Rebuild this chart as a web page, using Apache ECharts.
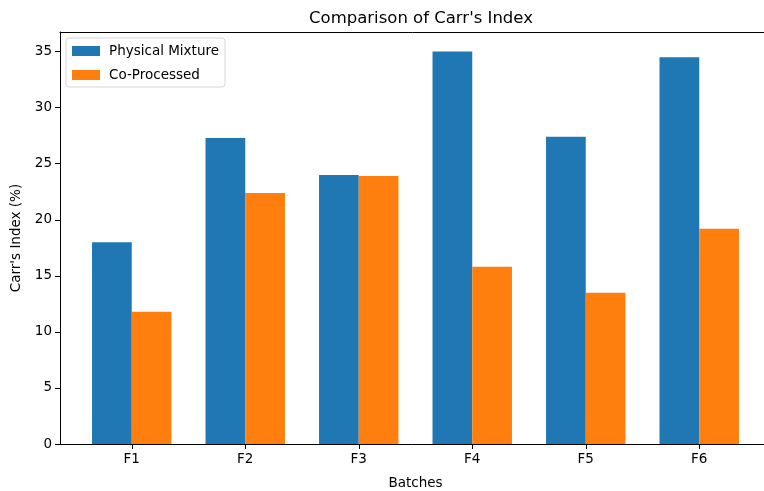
<!DOCTYPE html>
<html>
<head>
<meta charset="utf-8">
<script src="https://cdn.jsdelivr.net/npm/echarts@6/dist/echarts.min.js"></script>
<style>
  html, body { margin: 0; padding: 0; background: #fff; }
  #show_picture { width: 764px; height: 491px; }
</style>
</head>
<body>
<div id="show_picture"></div>
<script>
// data
const batches = ['F1', 'F2', 'F3', 'F4', 'F5', 'F6'];
const physicalMixture = [18.0, 27.3, 24.0, 35.0, 27.4, 34.5];
const coProcessed = [11.8, 22.4, 23.9, 15.8, 13.5, 19.2];
const yTicks = [0, 5, 10, 15, 20, 25, 30, 35];

let myChart = echarts.init(document.getElementById('show_picture'));
const font = 'DejaVu Sans';
const fs = 13.5;

let option = {
    animation: false,
    textStyle: { fontFamily: font },
    title: {
        text: "Comparison of Carr's Index",
        left: 416, top: 5, textAlign: 'center',
        textStyle: { fontFamily: font, fontWeight: 'normal', fontSize: 16.5, color: '#000' }
    },
    legend: {
        orient: 'vertical',
        left: 66, top: 38,
        padding: [6, 6, 5, 6],
        icon: 'rect',
        itemWidth: 28, itemHeight: 10, itemGap: 10,
        borderColor: '#d6d6d6', borderWidth: 1, borderRadius: 3,
        backgroundColor: 'rgba(255,255,255,0.8)',
        textStyle: { fontFamily: font, fontSize: fs, color: '#000', padding: [0, 0, 0, 4] },
        data: ['Physical Mixture', 'Co-Processed']
    },
    grid: [
        // frame (spines), right spine falls outside the picture
        { left: 60, right: -7, top: 32, bottom: 47, outerBoundsMode: 'none', containLabel: false },
        // bars, inset by the matplotlib x-margin
        { left: 75, right: 8, top: 32, bottom: 47, outerBoundsMode: 'none', containLabel: false }
    ],
    xAxis: [
        {
            gridIndex: 0, type: 'value', min: 0, max: 1, position: 'bottom',
            axisLine: { show: true, onZero: false, lineStyle: { color: '#000' } },
            axisTick: { show: false }, axisLabel: { show: false }, splitLine: { show: false }
        },
        {
            gridIndex: 0, type: 'value', min: 0, max: 1, position: 'top',
            axisLine: { show: true, onZero: false, lineStyle: { color: '#000' } },
            axisTick: { show: false }, axisLabel: { show: false }, splitLine: { show: false }
        },
        {
            gridIndex: 1, type: 'category', data: batches,
            name: 'Batches', nameLocation: 'middle', nameGap: 32,
            nameTextStyle: { fontFamily: font, fontSize: fs, color: '#000' },
            axisLine: { show: false },
            axisTick: { show: true, alignWithLabel: true, length: 5, lineStyle: { color: '#000' } },
            axisLabel: { fontFamily: font, fontSize: fs, color: '#000', margin: 8 }
        }
    ],
    yAxis: [
        {
            gridIndex: 0, type: 'value', min: 0, max: 36.75,
            name: "Carr's Index (%)", nameLocation: 'middle', nameGap: 32,
            nameTextStyle: { fontFamily: font, fontSize: fs, color: '#000' },
            splitLine: { show: false },
            axisLine: { show: true, lineStyle: { color: '#000' } },
            axisTick: { show: true, length: 5, customValues: yTicks, lineStyle: { color: '#000' } },
            axisLabel: { fontFamily: font, fontSize: fs, color: '#000', margin: 8, customValues: yTicks }
        },
        { gridIndex: 1, type: 'value', min: 0, max: 36.75, show: false, splitLine: { show: false } }
    ],
    series: [
        {
            name: 'Physical Mixture', type: 'bar', xAxisIndex: 2, yAxisIndex: 1,
            data: physicalMixture, barWidth: '35%', barGap: '0%',
            itemStyle: { color: '#1f77b4' }
        },
        {
            name: 'Co-Processed', type: 'bar', xAxisIndex: 2, yAxisIndex: 1,
            data: coProcessed, barWidth: '35%', barGap: '0%',
            itemStyle: { color: '#ff7f0e' }
        }
    ]
};

option && myChart.setOption(option);
</script>
</body>
</html>
